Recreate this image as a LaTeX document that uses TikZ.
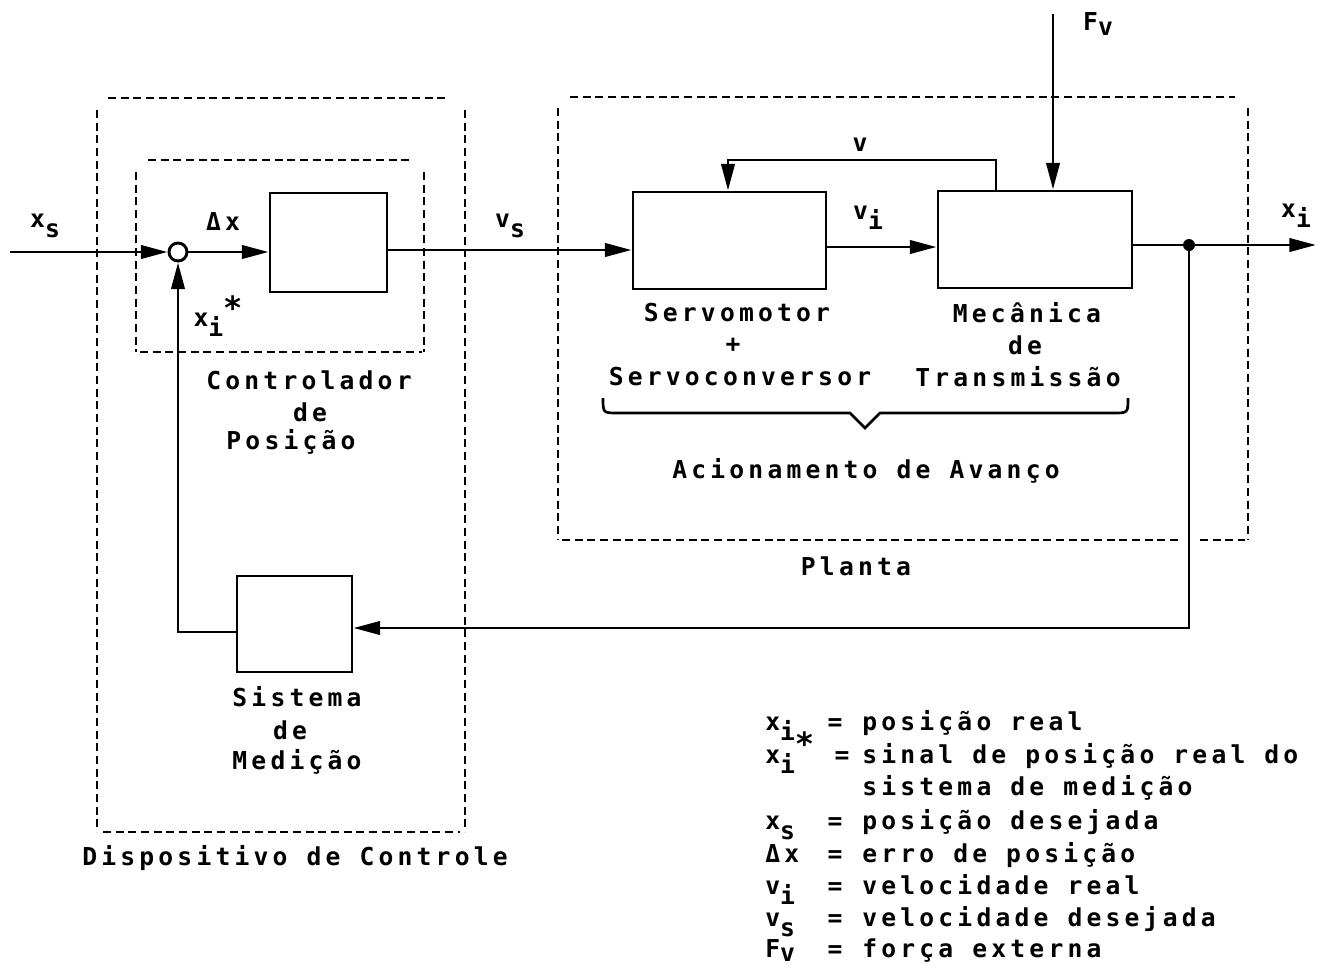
\documentclass[tikz,border=0pt]{standalone}
\usepackage{fontspec}
\newfontfamily\dm{DejaVu Sans Mono}[LetterSpace=17]
\usetikzlibrary{arrows.meta}
\newcommand\lw[1]{\raisebox{-0.42em}{#1}}
\newcommand\lwv[1]{\raisebox{-0.2em}{#1}}
\newcommand\myast{\raisebox{0.3em}{\fontsize{24}{24}\selectfont *}}
\begin{document}
\begin{tikzpicture}[x=0.75pt,y=-0.75pt,
  txt/.style={font=\dm\bfseries\fontsize{18.5}{22}\selectfont, inner sep=0pt, align=center},
  blk/.style={draw, line width=2.2pt, inner sep=0pt},
  ln/.style={line width=2.2pt},
  arr/.style={line width=2.2pt, -{Triangle[length=20pt,width=10pt]}},
  dsh/.style={line width=1.3pt, dash pattern=on 6pt off 3.5pt}]
\useasboundingbox (0,0) rectangle (1335,968);

% dashed frames
\draw[dsh] (108,98) -- (448,98);
\draw[dsh] (97,110) -- (97,832);
\draw[dsh] (465,110) -- (465,832);
\draw[dsh] (103,832) -- (460,832);
\draw[dsh] (148,160) -- (412,160);
\draw[dsh] (136,172) -- (136,352);
\draw[dsh] (424,172) -- (424,352);
\draw[dsh] (140,352) -- (422,352);
\draw[dsh] (570,97) -- (1235,97);
\draw[dsh] (558,108) -- (558,540);
\draw[dsh] (1248,108) -- (1248,540);
\draw[dsh] (562,540) -- (1180,540);
\draw[dsh] (1200,540) -- (1245,540);

% blocks
\node[blk, minimum width=87.75pt, minimum height=74.25pt] (ctrl) at (328.5,242.5) {};
\node[blk, minimum width=144.75pt, minimum height=72.75pt] (servo) at (729.5,240.5) {};
\node[blk, minimum width=145.5pt, minimum height=72.75pt] (mec) at (1035,239.5) {};
\node[blk, minimum width=86.25pt, minimum height=72pt] (meas) at (294.5,624) {};
\node[draw, circle, line width=2.2pt, fill=white, minimum size=13.5pt, inner sep=0pt] (sum) at (178,252) {};
\node[circle, fill=black, minimum size=9pt, inner sep=0pt] (dot) at (1189,245) {};

% connectors
\coordinate (xin) at (10,252);
\draw[arr] (xin) -- (sum.west);
\draw[arr] (sum.east) -- (sum.east -| ctrl.west);
\coordinate (c1) at (387,250);
\draw[arr] (c1 -| ctrl.east) -- (c1 -| servo.west);
\coordinate (c2) at (826,247);
\draw[arr] (c2 -| servo.east) -- (c2 -| mec.west);
\draw[ln] (dot -| mec.east) -- (dot);
\coordinate (xo) at (1316,245);
\draw[arr] (dot) -- (xo);
\coordinate (fbr) at (1189,628);
\draw[arr] (dot) -- (fbr) -- (fbr -| meas.east);
\coordinate (fbl) at (178,632);
\draw[arr] (fbl -| meas.west) -- (fbl) -- (sum.south);
\coordinate (va) at (996,160);
\coordinate (vb) at (728,160);
\draw[arr] (va |- mec.north) -- (va) -- (vb) -- (vb |- servo.north);
\coordinate (fv) at (1053,14);
\draw[arr] (fv) -- (fv |- mec.north);

% brace
\draw[line width=2pt] (603,398) .. controls (603,413) .. (618,413) -- (850,413) -- (865,428) -- (880,413) -- (1113,413) .. controls (1128,413) .. (1128,398);

% labels
\node[txt] (lxs) at (45,226) {x\lw{s}};
\node[txt] (ldx) at (223,222) {Δx};
\node[txt] (lxi) at (218,316) {x\lw{i}\myast};
\node[txt] (lvs) at (510,226) {v\lw{s}};
\node[txt] (lv) at (860,145) {v};
\node[txt] (lvi) at (868,218) {v\lw{i}};
\node[txt] (lfv) at (1098,24) {F\lwv{v}};
\node[txt] (lxo) at (1296,216) {x\lw{i}};
\node[txt] (t1) at (309,380) {Controlador};
\node[txt] (t2) at (310,412) {de};
\node[txt] (t3) at (291,442) {Posição};
\node[txt] (t4) at (297,697) {Sistema};
\node[txt] (t5) at (290,730) {de};
\node[txt] (t6) at (297,762) {Medição};
\node[txt] (t7) at (295,858) {Dispositivo de Controle};
\node[txt] (t8) at (737,313) {Servomotor};
\node[txt] (t9) at (733,345) {+};
\node[txt] (t10) at (740,377) {Servoconversor};
\node[txt] (t11) at (1027,313) {Mecânica};
\node[txt] (t12) at (1025,345) {de};
\node[txt] (t13) at (1018,377) {Transmissão};
\node[txt] (t14) at (866,471) {Acionamento de Avanço};
\node[txt] (t15) at (856,566) {Planta};

% legend
\node[txt, anchor=base west] (s1) at (765,730) {x\lw{i}};
\node[txt, anchor=base west] (s2) at (765,763) {x\lw{i}\myast};
\node[txt, anchor=base west] (s3) at (765,829) {x\lw{s}};
\node[txt, anchor=base west] (s4) at (765,862) {Δx};
\node[txt, anchor=base west] (s5) at (765,894) {v\lw{i}};
\node[txt, anchor=base west] (s6) at (765,926) {v\lw{s}};
\node[txt, anchor=base west] (s7) at (765,957) {F\lwv{v}};
\foreach \yy in {730,829,862,894,926,957} {\node[txt, anchor=base] at (835,\yy) {=};}
\node[txt, anchor=base] (e2) at (842,763) {=};
\node[txt, anchor=base west] (d1) at (862,730) {posição real};
\node[txt, anchor=base west] (d2) at (862,763) {sinal de posição real do};
\node[txt, anchor=base west] (d2b) at (862,795) {sistema de medição};
\node[txt, anchor=base west] (d3) at (862,829) {posição desejada};
\node[txt, anchor=base west] (d4) at (862,862) {erro de posição};
\node[txt, anchor=base west] (d5) at (862,894) {velocidade real};
\node[txt, anchor=base west] (d6) at (862,926) {velocidade desejada};
\node[txt, anchor=base west] (d7) at (862,957) {força externa};
\end{tikzpicture}
\end{document}
